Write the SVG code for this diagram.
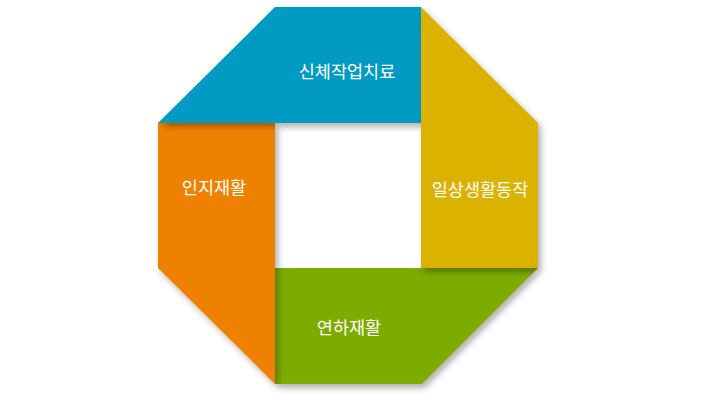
<svg xmlns="http://www.w3.org/2000/svg" width="710" height="405" viewBox="0 0 710 405">
<defs>
<filter id="sh" x="-10%" y="-10%" width="130%" height="130%">
<feDropShadow dx="3" dy="4" stdDeviation="3" flood-color="#000" flood-opacity="0.3"/>
</filter>
<style>
.seg{filter:url(#sh)}
.lbl{font-family:"Noto Sans CJK KR","Noto Sans",sans-serif;font-size:17.5px;fill:#fff;text-anchor:middle}
</style>
</defs>
<rect width="710" height="405" fill="#fff"/>
<g id="node-swallow">
<polygon class="seg" points="275,268 538,268 422,384 275,384" fill="#7dab05"/>
<text class="lbl" x="349" y="334">연하재활</text>
</g>
<g id="node-cognitive">
<polygon class="seg" points="158,123 275,123 275,384 158,268" fill="#ee8200"/>
<text class="lbl" x="214" y="194">인지재활</text>
</g>
<g id="node-physical">
<polygon class="seg" points="275,7 421,7 421,123 158,123" fill="#009ac3"/>
<text class="lbl" x="347" y="78">신체작업치료</text>
</g>
<g id="node-adl">
<polygon class="seg" points="421,7 538,123 538,268 421,268" fill="#dcb205"/>
<text class="lbl" x="480" y="196">일상생활동작</text>
</g>
<g id="connectors"></g>
</svg>
